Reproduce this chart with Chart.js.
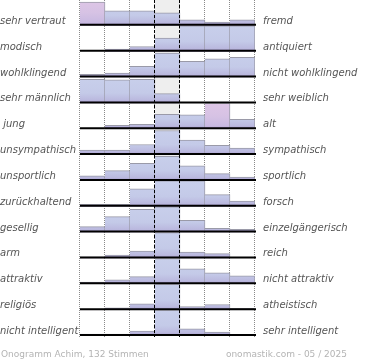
<!DOCTYPE html>
<html>
<head>
<meta charset="UTF-8">
<title>Onogramm Achim</title>
<script src="https://cdn.jsdelivr.net/npm/chart.js@4.4.0/dist/chart.umd.min.js"></script>
<style>
    body { margin: 0; background: #fff; }
    #chartContainer { width: 370px; height: 360px; }
</style>
</head>
<body>
<div id="chartContainer"><canvas id="myChart"></canvas></div>
<script>
// 7-point scale, share of votes per point (in % of the row height)
var scalePoints = ['-3', '-2', '-1', '0', '1', '2', '3'];

var leftLabels = ['sehr vertraut', 'modisch', 'wohlklingend', 'sehr männlich', ' jung', 'unsympathisch',
    'unsportlich', 'zurückhaltend', 'gesellig', 'arm', 'attraktiv', 'religiös', 'nicht intelligent'];
var rightLabels = ['fremd', 'antiquiert', 'nicht wohlklingend', 'sehr weiblich', 'alt', 'sympathisch',
    'sportlich', 'forsch', 'einzelgängerisch', 'reich', 'nicht attraktiv', 'atheistisch', 'sehr intelligent'];

var vertraut     = [92, 58, 58, 50, 23, 15, 23];
var modisch      = [0, 10, 20, 53, 100, 100, 100];
var wohlklingend = [12, 17, 43, 95, 63, 72, 78];
var maennlich    = [93, 91, 93, 38, 0, 0, 0];
var jung         = [0, 15, 19, 58, 56, 100, 38];
var sympathisch  = [19, 19, 41, 95, 58, 38, 27];
var sportlich    = [20, 40, 68, 95, 58, 28, 15];
var forsch       = [9, 9, 69, 100, 100, 47, 22];
var gesellig     = [23, 62, 90, 100, 48, 17, 13];
var reich        = [6, 13, 29, 100, 25, 19, 0];
var attraktiv    = [9, 17, 30, 100, 60, 44, 33];
var religioes    = [2, 9, 24, 100, 14, 22, 7];
var intelligent  = [7, 7, 19, 100, 28, 15, 5];

var rows = [vertraut, modisch, wohlklingend, maennlich, jung, sympathisch, sportlich,
    forsch, gesellig, reich, attraktiv, religioes, intelligent];

// bars shown in pink: [row, point]
var pinkBars = [[0, 0], [4, 5]];

var footerLeft = 'Onogramm Achim, 132 Stimmen';
var footerRight = 'onomastik.com - 05 / 2025';

function isPink(row, idx) {
    for (var i = 0; i < pinkBars.length; i++) {
        if (pinkBars[i][0] === row && pinkBars[i][1] === idx) return true;
    }
    return false;
}

function barFill(c) {
    var chart = c.chart;
    if (!chart.chartArea || c.type !== 'data') return '#c5cce8';
    var s = chart.scales[c.dataset.yAxisID];
    var g = chart.ctx.createLinearGradient(0, s.bottom, 0, s.top);
    if (isPink(c.datasetIndex, c.dataIndex)) {
        g.addColorStop(0, 'rgb(170,150,205)');
        g.addColorStop(0.12, 'rgb(200,185,225)');
        g.addColorStop(0.5, 'rgb(214,194,228)');
        g.addColorStop(1, 'rgb(222,198,230)');
    } else {
        g.addColorStop(0, 'rgb(158,140,195)');
        g.addColorStop(0.12, 'rgb(186,184,222)');
        g.addColorStop(0.4, 'rgb(196,202,232)');
        g.addColorStop(1, 'rgb(200,207,235)');
    }
    return g;
}

var rowDecor = {
    id: 'rowDecor',
    beforeDatasetsDraw: function (chart) {
        var c = chart.ctx, a = chart.chartArea, xs = chart.scales.x;
        var step = (a.right - a.left) / scalePoints.length;
        c.save();
        c.fillStyle = '#eeeeee';
        var mid = xs.getPixelForValue(3);
        c.fillRect(mid - step / 2, a.top, step, a.bottom - a.top);
        c.strokeStyle = '#8a8a8a';
        c.lineWidth = 1;
        c.setLineDash([1, 1]);
        for (var i = 0; i <= scalePoints.length; i++) {
            var x = Math.round(a.left + i * step) - 0.5;
            c.beginPath();
            c.moveTo(x, a.top);
            c.lineTo(x, a.bottom + 1);
            c.stroke();
        }
        c.restore();
    },
    afterDatasetsDraw: function (chart) {
        var c = chart.ctx, a = chart.chartArea;
        var step = (a.right - a.left) / scalePoints.length;
        c.save();
        c.strokeStyle = '#000';
        c.lineWidth = 1;
        c.setLineDash([3, 2]);
        [3, 4].forEach(function (i) {
            var x = Math.round(a.left + i * step) - 0.5;
            c.beginPath();
            c.moveTo(x, a.top);
            c.lineTo(x, a.bottom + 1);
            c.stroke();
        });
        c.setLineDash([]);
        c.lineWidth = 2;
        rows.forEach(function (row, i) {
            var y = chart.scales['y' + i].getPixelForValue(0) - 1;
            c.beginPath();
            c.moveTo(a.left, y);
            c.lineTo(a.right + 1, y);
            c.stroke();
        });
        c.restore();
    },
    afterDraw: function (chart) {
        var c = chart.ctx, a = chart.chartArea;
        c.save();
        c.font = 'italic 10px "DejaVu Sans"';
        c.fillStyle = '#555555';
        c.textBaseline = 'alphabetic';
        rows.forEach(function (row, i) {
            var y = chart.scales['y' + i].getPixelForValue(0) - 2;
            c.textAlign = 'left';
            c.fillText(leftLabels[i], 0, y);
            c.fillText(rightLabels[i], a.right + 8, y);
        });
        c.font = '9px "DejaVu Sans"';
        c.fillStyle = '#b4b4b4';
        c.textAlign = 'left';
        c.fillText(footerLeft, 1, 357);
        c.textAlign = 'right';
        c.fillText(footerRight, 347, 357);
        c.restore();
    }
};

var scales = {
    x: { type: 'category', labels: scalePoints, display: false, offset: true }
};
var datasets = [];
rows.forEach(function (row, i) {
    scales['y' + i] = {
        axis: 'y', type: 'linear', position: 'right', stack: 'rows', stackWeight: 1,
        min: 0, max: 100, display: false
    };
    datasets.push({
        label: leftLabels[i],
        data: row,
        yAxisID: 'y' + i,
        grouped: false,
        barPercentage: 1,
        categoryPercentage: 1,
        backgroundColor: barFill,
        borderColor: '#9a9aa8',
        borderWidth: { top: 1, right: 1, bottom: 0, left: 0 }
    });
});

var myChart = new Chart(document.getElementById('myChart'), {
    type: 'bar',
    data: { labels: scalePoints, datasets: datasets },
    options: {
        responsive: true,
        maintainAspectRatio: false,
        animation: false,
        layout: { padding: { left: 80, right: 115, top: 0, bottom: 24 } },
        plugins: { legend: { display: false }, tooltip: { enabled: false } },
        scales: scales
    },
    plugins: [rowDecor]
});
</script>
</body>
</html>
